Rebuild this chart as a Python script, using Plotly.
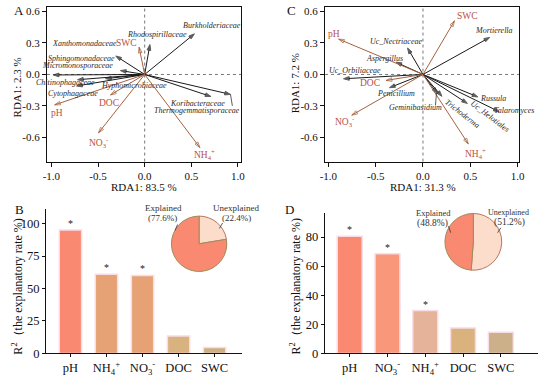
import plotly.graph_objects as go

FONT = "Liberation Serif"
W, H = 550, 381

# ---------------- Data ----------------
# Panel A (bacteria RDA)
a_env_names = ["SWC", "pH", "DOC", "NO<sub>3</sub><sup>-</sup>", "NH<sub>4</sub><sup>+</sup>"]
a_env_x = [-0.06, -0.965, -0.366, -0.495, 0.592]
a_env_y = [0.26, -0.29, -0.195, -0.557, -0.697]
a_sp_names = ["Burkholderiaceae", "Rhodospirillaceae", "Xanthomonadaceae", "Sphingomonadaceae",
              "Micromonosporaceae", "Chitinophagaceae", "Hyphomicrobiaceae", "Cytophagaceae",
              "Koribacteraceae", "Thermogemmatisporaceae"]
a_sp_x = [0.533, 0.056, -0.31, -0.26, -0.98, -0.72, -0.42, -0.73, 0.71, 0.92]
a_sp_y = [0.387, 0.285, 0.176, 0.037, -0.005, -0.05, -0.04, -0.11, -0.21, -0.19]

# Panel C (fungi RDA)
c_env_names = ["SWC", "pH", "DOC", "NO<sub>3</sub><sup>-</sup>", "NH<sub>4</sub><sup>+</sup>"]
c_env_x = [0.333, -0.892, -0.389, -0.753, 0.479]
c_env_y = [0.511, 0.337, -0.057, -0.388, -0.662]
c_sp_names = ["Mortierella", "Uc_Nectriaceae", "Aspergillus", "Uc_Orbiliaceae", "Penicillium",
              "Geminibasidium", "Trichoderma", "Uc_Helotiales", "Russula", "Talaromyces"]
c_sp_x = [0.705, -0.163, -0.285, -0.84, -0.354, 0.15, 0.2, 0.469, 0.58, 0.806]
c_sp_y = [0.353, 0.252, 0.117, -0.041, -0.126, -0.18, -0.208, -0.276, -0.214, -0.355]

# Panel B bars
b_cats = ["pH", "NH4", "NO3", "DOC", "SWC"]
b_ticktext = ["pH", "NH<sub>4</sub><sup>+</sup>", "NO<sub>3</sub><sup>-</sup>", "DOC", "SWC"]
b_vals = [95, 61, 60, 13.5, 4.5]
b_sig = ["*", "*", "*", "", ""]
b_pie_labels = ["Unexplained", "Explained"]
b_pie_vals = [22.4, 77.6]

# Panel D bars
d_cats = ["pH", "NO3", "NH4", "DOC", "SWC"]
d_ticktext = ["pH", "NO<sub>3</sub><sup>-</sup>", "NH<sub>4</sub><sup>+</sup>", "DOC", "SWC"]
d_vals = [80.5, 68.5, 29.5, 17.5, 14.5]
d_sig = ["*", "*", "*", "", ""]
d_pie_labels = ["Unexplained", "Explained"]
d_pie_vals = [51.2, 48.8]

# ---------------- Label placement (data coords of each label) ----------------
a_env_lab = [(-0.193, 0.296), (-0.94, -0.367), (-0.384, -0.274), (-0.498, -0.645), (0.637, -0.764)]
a_sp_lab = [(0.718, 0.467), (0.134, 0.380), (-0.642, 0.296), (-0.677, 0.152), (-0.721, 0.082),
            (-0.848, -0.078), (-0.119, -0.109), (-0.764, -0.180), (0.565, -0.272), (0.562, -0.346)]
c_env_lab = [(0.47, 0.555), (-0.942, 0.39), (-0.555, -0.082), (-0.831, -0.45), (0.553, -0.751)]
c_sp_lab = [(0.748, 0.422), (-0.285, 0.315), (-0.412, 0.151), (-0.717, 0.035), (-0.285, -0.182),
            (-0.083, -0.315), (0.415, -0.368), (0.709, -0.399), (0.737, -0.229), (0.958, -0.347)]
c_sp_angle = [0, 0, 0, 0, 0, 0, 38, 37, 0, 0]
# leader lines (data coords): panel A, panel C
a_leaders = [(0.92, -0.19, 0.94, -0.30)]
c_leaders = [(0.143, -0.175, 0.132, -0.295)]

ENV_LINE = "#A5623F"
ENV_TXT = "#B9503F"
SP_LINE = "#1a1a1a"
SP_TXT = "#2a2a2a"


def px(x):
    return x / W


def py(y):
    return 1 - y / H


fig = go.Figure()
annotations = []
shapes = []


def add_arrow(x, y, color, symbol, xa, ya):
    fig.add_trace(go.Scatter(
        x=[0, x], y=[0, y], mode="lines+markers", xaxis=xa, yaxis=ya,
        line=dict(color=color, width=1),
        marker=dict(symbol=symbol, size=[0, 6], angleref="previous", color=color,
                    line=dict(color=color, width=1)),
        showlegend=False, hoverinfo="skip"))


def biplot(env_x, env_y, env_names, env_lab, sp_x, sp_y, sp_names, sp_lab, sp_angle, leaders, xa, ya):
    axn = xa.replace("x", "")
    xref = "x" + axn
    yref = "y" + axn
    shapes.append(dict(type="line", xref=xref + " domain", yref=yref, x0=0, x1=1, y0=0, y1=0,
                       line=dict(color="#777777", width=1, dash="dot"), layer="below"))
    shapes.append(dict(type="line", xref=xref, yref=yref + " domain", x0=0, x1=0, y0=0, y1=1,
                       line=dict(color="#777777", width=1, dash="dot"), layer="below"))
    for (x0, y0, x1, y1) in leaders:
        shapes.append(dict(type="line", xref=xref, yref=yref, x0=x0, y0=y0, x1=x1, y1=y1,
                           line=dict(color="#333", width=0.8)))
    for i in range(len(sp_x)):
        add_arrow(sp_x[i], sp_y[i], SP_LINE, "arrow", xa, ya)
        annotations.append(dict(x=sp_lab[i][0], y=sp_lab[i][1], xref=xref, yref=yref,
                                text="<i>" + sp_names[i] + "</i>", showarrow=False,
                                textangle=sp_angle[i],
                                font=dict(family=FONT, size=8, color=SP_TXT)))
    for i in range(len(env_x)):
        add_arrow(env_x[i], env_y[i], ENV_LINE, "arrow-open", xa, ya)
        annotations.append(dict(x=env_lab[i][0], y=env_lab[i][1], xref=xref, yref=yref,
                                text=env_names[i], showarrow=False,
                                font=dict(family=FONT, size=9.5, color=ENV_TXT)))


biplot(a_env_x, a_env_y, a_env_names, a_env_lab, a_sp_x, a_sp_y, a_sp_names, a_sp_lab,
       [0] * 10, a_leaders, "x", "y")
biplot(c_env_x, c_env_y, c_env_names, c_env_lab, c_sp_x, c_sp_y, c_sp_names, c_sp_lab,
       c_sp_angle, c_leaders, "x2", "y2")

# Bars
b_colors = ["#F98A71", "#E6A274", "#E6A274", "#D9B37F", "#CCB081"]
d_colors = ["#F98A71", "#F8977A", "#E5B39A", "#D9B27E", "#CBB089"]
fig.add_trace(go.Bar(x=b_cats, y=b_vals, marker=dict(color=b_colors, line=dict(color="#F9DCE6", width=1.5)),
                     width=0.62, xaxis="x3", yaxis="y3", showlegend=False, hoverinfo="skip"))
fig.add_trace(go.Bar(x=d_cats, y=d_vals, marker=dict(color=d_colors, line=dict(color="#F9DCE6", width=1.5)),
                     width=0.66, xaxis="x4", yaxis="y4", showlegend=False, hoverinfo="skip"))
for cats, vals, sig, xr, yr in [(b_cats, b_vals, b_sig, "x3", "y3"), (d_cats, d_vals, d_sig, "x4", "y4")]:
    for c, v, s in zip(cats, vals, sig):
        if s:
            annotations.append(dict(x=c, y=v, xref=xr, yref=yr, text=s, showarrow=False,
                                    yanchor="bottom", yshift=-1,
                                    font=dict(family=FONT, size=10, color="#222")))

# Pies
PIE_COLORS = ["#FCDCCB", "#F98A71"]
fig.add_trace(go.Pie(values=b_pie_vals, labels=b_pie_labels, sort=False, direction="clockwise",
                     rotation=0, textinfo="none", hoverinfo="skip", showlegend=False,
                     domain=dict(x=[px(169.4), px(226.0)], y=[py(276.3), py(219.7)]),
                     marker=dict(colors=PIE_COLORS, line=dict(color=["#B8765E", "#A08C5A"], width=1))))
fig.add_trace(go.Pie(values=d_pie_vals, labels=d_pie_labels, sort=False, direction="clockwise",
                     rotation=0, textinfo="none", hoverinfo="skip", showlegend=False,
                     domain=dict(x=[px(448), px(506)], y=[py(275), py(217)]),
                     marker=dict(colors=PIE_COLORS, line=dict(color=["#B8765E", "#A08C5A"], width=1))))


def ptext(x, y, text, size, angle=0, color="#111", xanchor="center"):
    annotations.append(dict(x=px(x), y=py(y), xref="paper", yref="paper", text=text,
                            showarrow=False, textangle=angle, xanchor=xanchor, yanchor="middle",
                            font=dict(family=FONT, size=size, color=color)))


# pie labels
ptext(161.7, 211.7, "Explained", 9, color="#333")
ptext(160.5, 221.7, "(77.6%)", 9, color="#333")
ptext(235.5, 211.7, "Unexplained", 9, color="#333")
ptext(235.5, 221.7, "(22.4%)", 9, color="#333")
ptext(436.7, 216.7, "Explained", 8.5, color="#333")
ptext(435, 227.3, "(48.8%)", 9.5, color="#333")
ptext(513.3, 216, "Unexplained", 8, color="#333")
ptext(514.3, 226.7, "(51.2%)", 9.5, color="#333")
for (x0, y0, x1, y1) in [(175.7, 228.3, 173.3, 234.3), (221.7, 226.7, 218.3, 232.3),
                         (451.7, 230, 454, 236.7), (505, 231.7, 501.7, 236.7)]:
    shapes.append(dict(type="line", xref="paper", yref="paper", x0=px(x0), y0=py(y0),
                       x1=px(x1), y1=py(y1), line=dict(color="#333", width=0.8)))

# Panel letters & axis titles
ptext(14, 10, "A", 13)
ptext(292, 10, "C", 13)
ptext(14.3, 213.3, "B", 13)
ptext(290, 213.3, "D", 13)
ptext(142, 190, "RDA1: 83.5 %", 11)
ptext(425.7, 190, "RDA1: 31.3 %", 11)
ptext(12.5, 88, "RDA1: 2.3 %", 11, angle=-90)
ptext(295.5, 84, "RDA1: 7.2 %", 11, angle=-90)
ptext(13, 292, "R<sup>2</sup>\uff08the explanatory rate %)", 12, angle=-90)
ptext(296, 292, "R<sup>2</sup>\uff08the explanatory rate %)", 12, angle=-90)

tickfont = dict(family=FONT, size=11, color="#111")
rda_xt = dict(tickvals=[-1, -0.5, 0, 0.5, 1], ticktext=["-1.0", "-0.5", "0.0", "0.5", "1.0"])
rda_yt = dict(tickvals=[-0.6, -0.3, 0, 0.3, 0.6], ticktext=["-0.6", "-0.3", "0.0", "0.3", "0.6"])
box = dict(showline=True, linecolor="#111", linewidth=1, mirror=True, ticks="outside",
           ticklen=4, tickcolor="#111", showgrid=False, zeroline=False, tickfont=tickfont)
barax = dict(showline=True, linecolor="#111", linewidth=1, ticks="outside", ticklen=3,
             tickcolor="#111", showgrid=False, zeroline=False,
             tickfont=dict(family=FONT, size=12.5, color="#111"))

fig.update_layout(
    width=W, height=H, autosize=False, margin=dict(l=0, r=0, t=0, b=0),
    paper_bgcolor="white", plot_bgcolor="white", showlegend=False,
    bargap=0,
    xaxis=dict(domain=[px(42.7), px(240.7)], range=[-1.048, 1.036], anchor="y", **rda_xt, **box),
    yaxis=dict(domain=[py(164), py(6)], range=[-0.83, 0.644], anchor="x", **rda_yt, **box),
    xaxis2=dict(domain=[px(326), px(524)], range=[-1.035, 1.02], anchor="y2", **rda_xt, **box),
    yaxis2=dict(domain=[py(164), py(6)], range=[-0.83, 0.644], anchor="x2", **rda_yt, **box),
    xaxis3=dict(domain=[px(41.7), px(241)], range=[-0.68, 4.75], anchor="y3", type="category",
                tickvals=b_cats, ticktext=b_ticktext, **barax),
    yaxis3=dict(domain=[py(360), py(212.7)], range=[0, 111], anchor="x3",
                tickvals=[0, 25, 50, 75, 100], **barax),
    xaxis4=dict(domain=[px(325.7), px(542.7)], range=[-0.66, 4.98], anchor="y4", type="category",
                tickvals=d_cats, ticktext=d_ticktext, **barax),
    yaxis4=dict(domain=[py(360), py(216.7)], range=[0, 96.4], anchor="x4",
                tickvals=[0, 20, 40, 60, 80], **barax),
    annotations=annotations,
    shapes=shapes,
)

fig.write_html("out.html", config={"displayModeBar": False, "staticPlot": True},
               post_script="document.body.style.margin='0';document.body.style.overflow='hidden';")
